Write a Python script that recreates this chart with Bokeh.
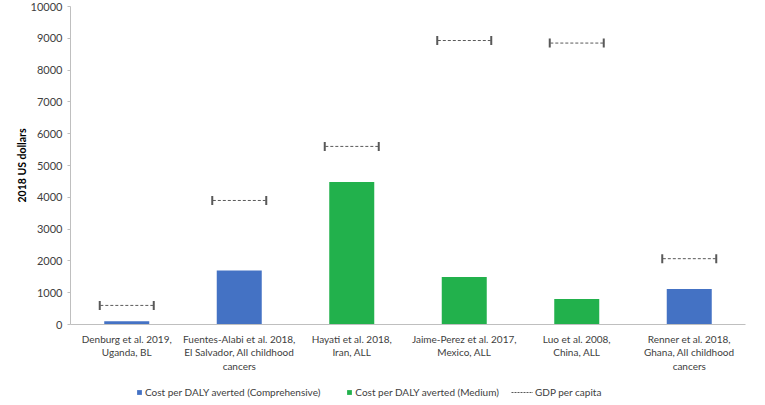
import math
from bokeh.plotting import figure
from bokeh.layouts import column
from bokeh.models import ColumnDataSource, Legend, LegendItem, FixedTicker, CDSView, IndexFilter
from bokeh.transform import dodge
from bokeh.embed import file_html
from bokeh.resources import INLINE

studies = [
    "Denburg et al. 2019,\nUganda, BL",
    "Fuentes-Alabi et al. 2018,\nEl Salvador, All childhood\ncancers",
    "Hayati et al. 2018,\nIran, ALL",
    "Jaime-Perez et al. 2017,\nMexico, ALL",
    "Luo et al. 2008,\nChina, ALL",
    "Renner et al. 2018,\nGhana, All childhood\ncancers",
]
cost_per_daly = [100, 1700, 4480, 1490, 800, 1120]
scenario = ["Comprehensive", "Comprehensive", "Medium", "Medium", "Medium", "Comprehensive"]
gdp_per_capita = [600, 3900, 5600, 8930, 8850, 2070]
y_ticks = [0, 1000, 2000, 3000, 4000, 5000, 6000, 7000, 8000, 9000, 10000]
legend_labels = ["Cost per DALY averted (Comprehensive)",
                 "Cost per DALY averted (Medium)",
                 "GDP per capita"]

BLUE = "#4472C4"
GREEN = "#22B14C"
GRAY = "#595959"
TEXT = "#404040"
AXIS = "#BFBFBF"
FONT = "Lato"

src = ColumnDataSource(dict(study=studies, cost=cost_per_daly, gdp=gdp_per_capita, scen=scenario))

p = figure(x_range=studies, y_range=(0, 10000), width=765, height=381,
           output_backend="svg", toolbar_location=None,
           min_border_left=70, min_border_right=20, min_border_top=6,
           min_border_bottom=57)
p.outline_line_color = None
p.xgrid.grid_line_color = None
p.ygrid.grid_line_color = None

comp = [i for i, s in enumerate(scenario) if s == "Comprehensive"]
med = [i for i, s in enumerate(scenario) if s == "Medium"]
p.vbar(x="study", top="cost", bottom=0, width=0.4, source=src,
       view=CDSView(filter=IndexFilter(comp)), fill_color=BLUE, line_color=None)
p.vbar(x="study", top="cost", bottom=0, width=0.4, source=src,
       view=CDSView(filter=IndexFilter(med)), fill_color=GREEN, line_color=None)

p.segment(x0=dodge("study", -0.235, range=p.x_range), y0="gdp",
          x1=dodge("study", 0.235, range=p.x_range), y1="gdp",
          source=src, line_color=GRAY, line_width=1, line_dash="3 2")
for off in (-0.24, 0.24):
    p.scatter(x=dodge("study", off, range=p.x_range), y="gdp", source=src,
              marker="dash", angle=math.pi / 2, size=9, line_color=GRAY, line_width=2)

p.yaxis.ticker = FixedTicker(ticks=y_ticks)
p.yaxis.axis_label = "2018 US dollars"
p.yaxis.axis_label_text_font = FONT
p.yaxis.axis_label_text_font_style = "bold"
p.yaxis.axis_label_text_font_size = "10.5px"
p.yaxis.axis_label_text_color = "#000000"
p.yaxis.axis_label_standoff = 0
p.yaxis.major_label_text_font = FONT
p.yaxis.major_label_text_font_size = "11px"
p.yaxis.major_label_text_color = TEXT
p.yaxis.major_label_standoff = 5
p.yaxis.axis_line_color = AXIS
p.yaxis.major_tick_line_color = AXIS
p.yaxis.major_tick_out = 3
p.yaxis.major_tick_in = 0
p.yaxis.minor_tick_line_color = None

p.xaxis.axis_line_color = AXIS
p.xaxis.major_tick_line_color = None
p.xaxis.minor_tick_line_color = None
p.xaxis.major_label_text_font = FONT
p.xaxis.major_label_text_font_size = "10px"
p.xaxis.major_label_text_line_height = 1.15
p.xaxis.major_label_text_color = TEXT
p.xaxis.major_label_standoff = 2

# legend strip (proxy renderers have zero size, so nothing but the legend shows)
lf = figure(width=765, height=20, output_backend="svg", toolbar_location=None,
            x_range=(0, 1), y_range=(0, 1), min_border=0,
            x_axis_location=None, y_axis_location=None)
lf.outline_line_color = None
lf.grid.visible = False
proxy = ColumnDataSource(dict(x=[0], y=[0]))
g1 = lf.vbar(x="x", top="y", bottom="y", width=0, source=proxy, fill_color=BLUE, line_color=None)
g2 = lf.vbar(x="x", top="y", bottom="y", width=0, source=proxy, fill_color=GREEN, line_color=None)
g3 = lf.segment(x0="x", y0="y", x1="x", y1="y", source=proxy, line_color=GRAY,
                line_width=1, line_dash="2 1")

common = dict(orientation="horizontal", label_text_font=FONT, label_text_font_size="10px",
              label_text_color=TEXT, border_line_color=None, background_fill_alpha=0,
              margin=0, padding=2)
leg1 = Legend(items=[LegendItem(label=legend_labels[0], renderers=[g1]),
                     LegendItem(label=legend_labels[1], renderers=[g2])],
              location=(66, 3), glyph_width=6, glyph_height=6, spacing=26,
              label_standoff=3, **common)
leg2 = Legend(items=[LegendItem(label=legend_labels[2], renderers=[g3])],
              location=(441, 3), glyph_width=22, glyph_height=6,
              label_standoff=2, **common)
lf.add_layout(leg1, "center")
lf.add_layout(leg2, "center")

layout = column(p, lf, spacing=0)
open("out.html", "w").write(file_html(layout, INLINE))
